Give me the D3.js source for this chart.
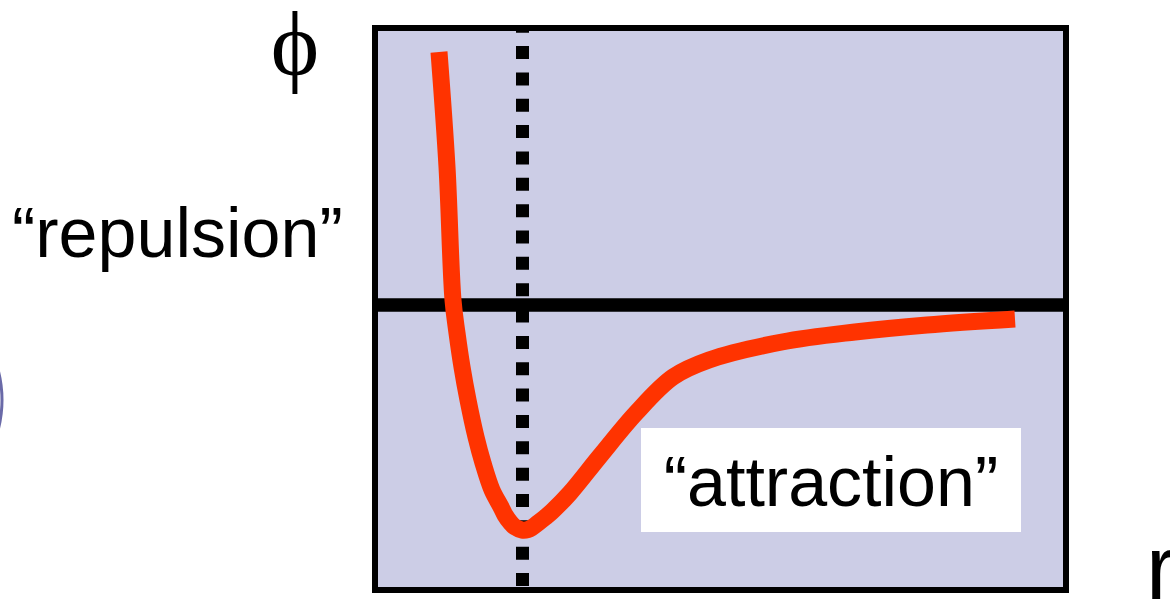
<!DOCTYPE html>
<html>
<head>
<meta charset="utf-8">
<script src="https://cdn.jsdelivr.net/npm/d3@7"></script>
<style>
  html, body { margin: 0; padding: 0; background: #fff; overflow: hidden; }
</style>
</head>
<body>
<div class="canvas"></div>
<script>
/* ----------- DATA ----------- */
// separation r and potential phi (arbitrary units)
const rValues   = [0.64, 0.72, 0.78, 0.82, 0.87, 0.93, 1.01, 1.08, 1.17, 1.26, 1.30, 1.35, 1.40, 1.47, 1.53, 1.57, 1.63, 1.70, 1.77, 1.95, 2.25, 2.61, 2.98, 3.34, 4.07, 4.80, 5.52, 6.40];
const phiValues = [2.53, 1.38, 0.05, -0.28, -0.62, -0.95, -1.32, -1.58, -1.85, -2.02, -2.10, -2.17, -2.22, -2.25, -2.245, -2.225, -2.18, -2.125, -2.065, -1.88, -1.51, -1.08, -0.72, -0.55, -0.37, -0.27, -0.20, -0.14];
const rEquilibrium = 1.475;   // dotted line at the minimum
const labels = { y: '\u03D5', x: 'r', repulsion: '\u201Crepulsion\u201D', attraction: '\u201Cattraction\u201D' };

/* ----------- CONTAINER & GRAPH ----------- */
const width = 1170, height = 601;

const svg = d3.select('.canvas')
    .append('svg')
    .attr('width', width)
    .attr('height', height);

/* ----------- SCALES ------------- */
const x = d3.scaleLinear()
    .domain([0, 6.91])
    .range([375, 1066]);

const y = d3.scaleLinear()
    .domain([-2.85, 2.77])
    .range([590, 28]);

const [x0, x1] = x.range();
const [yBottom, yTop] = y.range();

// partial circle peeking in at the left edge
svg.append('circle')
    .attr('cx', -115)
    .attr('cy', 400)
    .attr('r', 117)
    .attr('fill', 'none')
    .attr('stroke', '#6a6aa8')
    .attr('stroke-width', 3);

// plot background
svg.append('rect')
    .attr('x', x0)
    .attr('y', yTop)
    .attr('width', x1 - x0)
    .attr('height', yBottom - yTop)
    .attr('fill', '#cccde6');

// zero line
svg.append('line')
    .attr('x1', x0).attr('x2', x1)
    .attr('y1', y(0)).attr('y2', y(0))
    .attr('stroke', '#000')
    .attr('stroke-width', 13.5);

// dotted line at the equilibrium distance
svg.append('line')
    .attr('x1', x(rEquilibrium)).attr('x2', x(rEquilibrium))
    .attr('y1', yTop).attr('y2', yBottom)
    .attr('stroke', '#000')
    .attr('stroke-width', 13)
    .attr('stroke-dasharray', '13 13.35')
    .attr('stroke-dashoffset', 8.3);

// potential curve
const points = rValues.map((r, i) => [r, phiValues[i]]);
const line = d3.line()
    .x(d => x(d[0]))
    .y(d => y(d[1]))
    .curve(d3.curveCatmullRom.alpha(0.5));

svg.append('path')
    .datum(points)
    .attr('d', line)
    .attr('fill', 'none')
    .attr('stroke', '#ff3300')
    .attr('stroke-width', 17)
    .attr('stroke-linejoin', 'round');

// "attraction" label box
svg.append('rect')
    .attr('x', 641)
    .attr('y', 428)
    .attr('width', 380)
    .attr('height', 104)
    .attr('fill', '#fff');

svg.append('text')
    .attr('x', 831)
    .attr('y', 506)
    .attr('text-anchor', 'middle')
    .style('font-family', 'Arial, "Liberation Sans", sans-serif')
    .style('font-size', '70px')
    .text(labels.attraction);

// frame
svg.append('rect')
    .attr('x', x0)
    .attr('y', yTop)
    .attr('width', x1 - x0)
    .attr('height', yBottom - yTop)
    .attr('fill', 'none')
    .attr('stroke', '#000')
    .attr('stroke-width', 6);

/* ----------- LABELS ----------- */
svg.append('text')
    .attr('x', 12)
    .attr('y', 257)
    .style('font-family', 'Arial, "Liberation Sans", sans-serif')
    .style('font-size', '70px')
    .text(labels.repulsion);

svg.append('text')
    .attr('x', 295)
    .attr('y', 75)
    .attr('text-anchor', 'middle')
    .style('font-family', '"Liberation Serif", "DejaVu Serif", serif')
    .style('font-size', '92px')
    .text(labels.y);

svg.append('text')
    .attr('x', 1146)
    .attr('y', 599)
    .style('font-family', 'Arial, "Liberation Sans", sans-serif')
    .style('font-size', '90px')
    .text(labels.x);
</script>
</body>
</html>
